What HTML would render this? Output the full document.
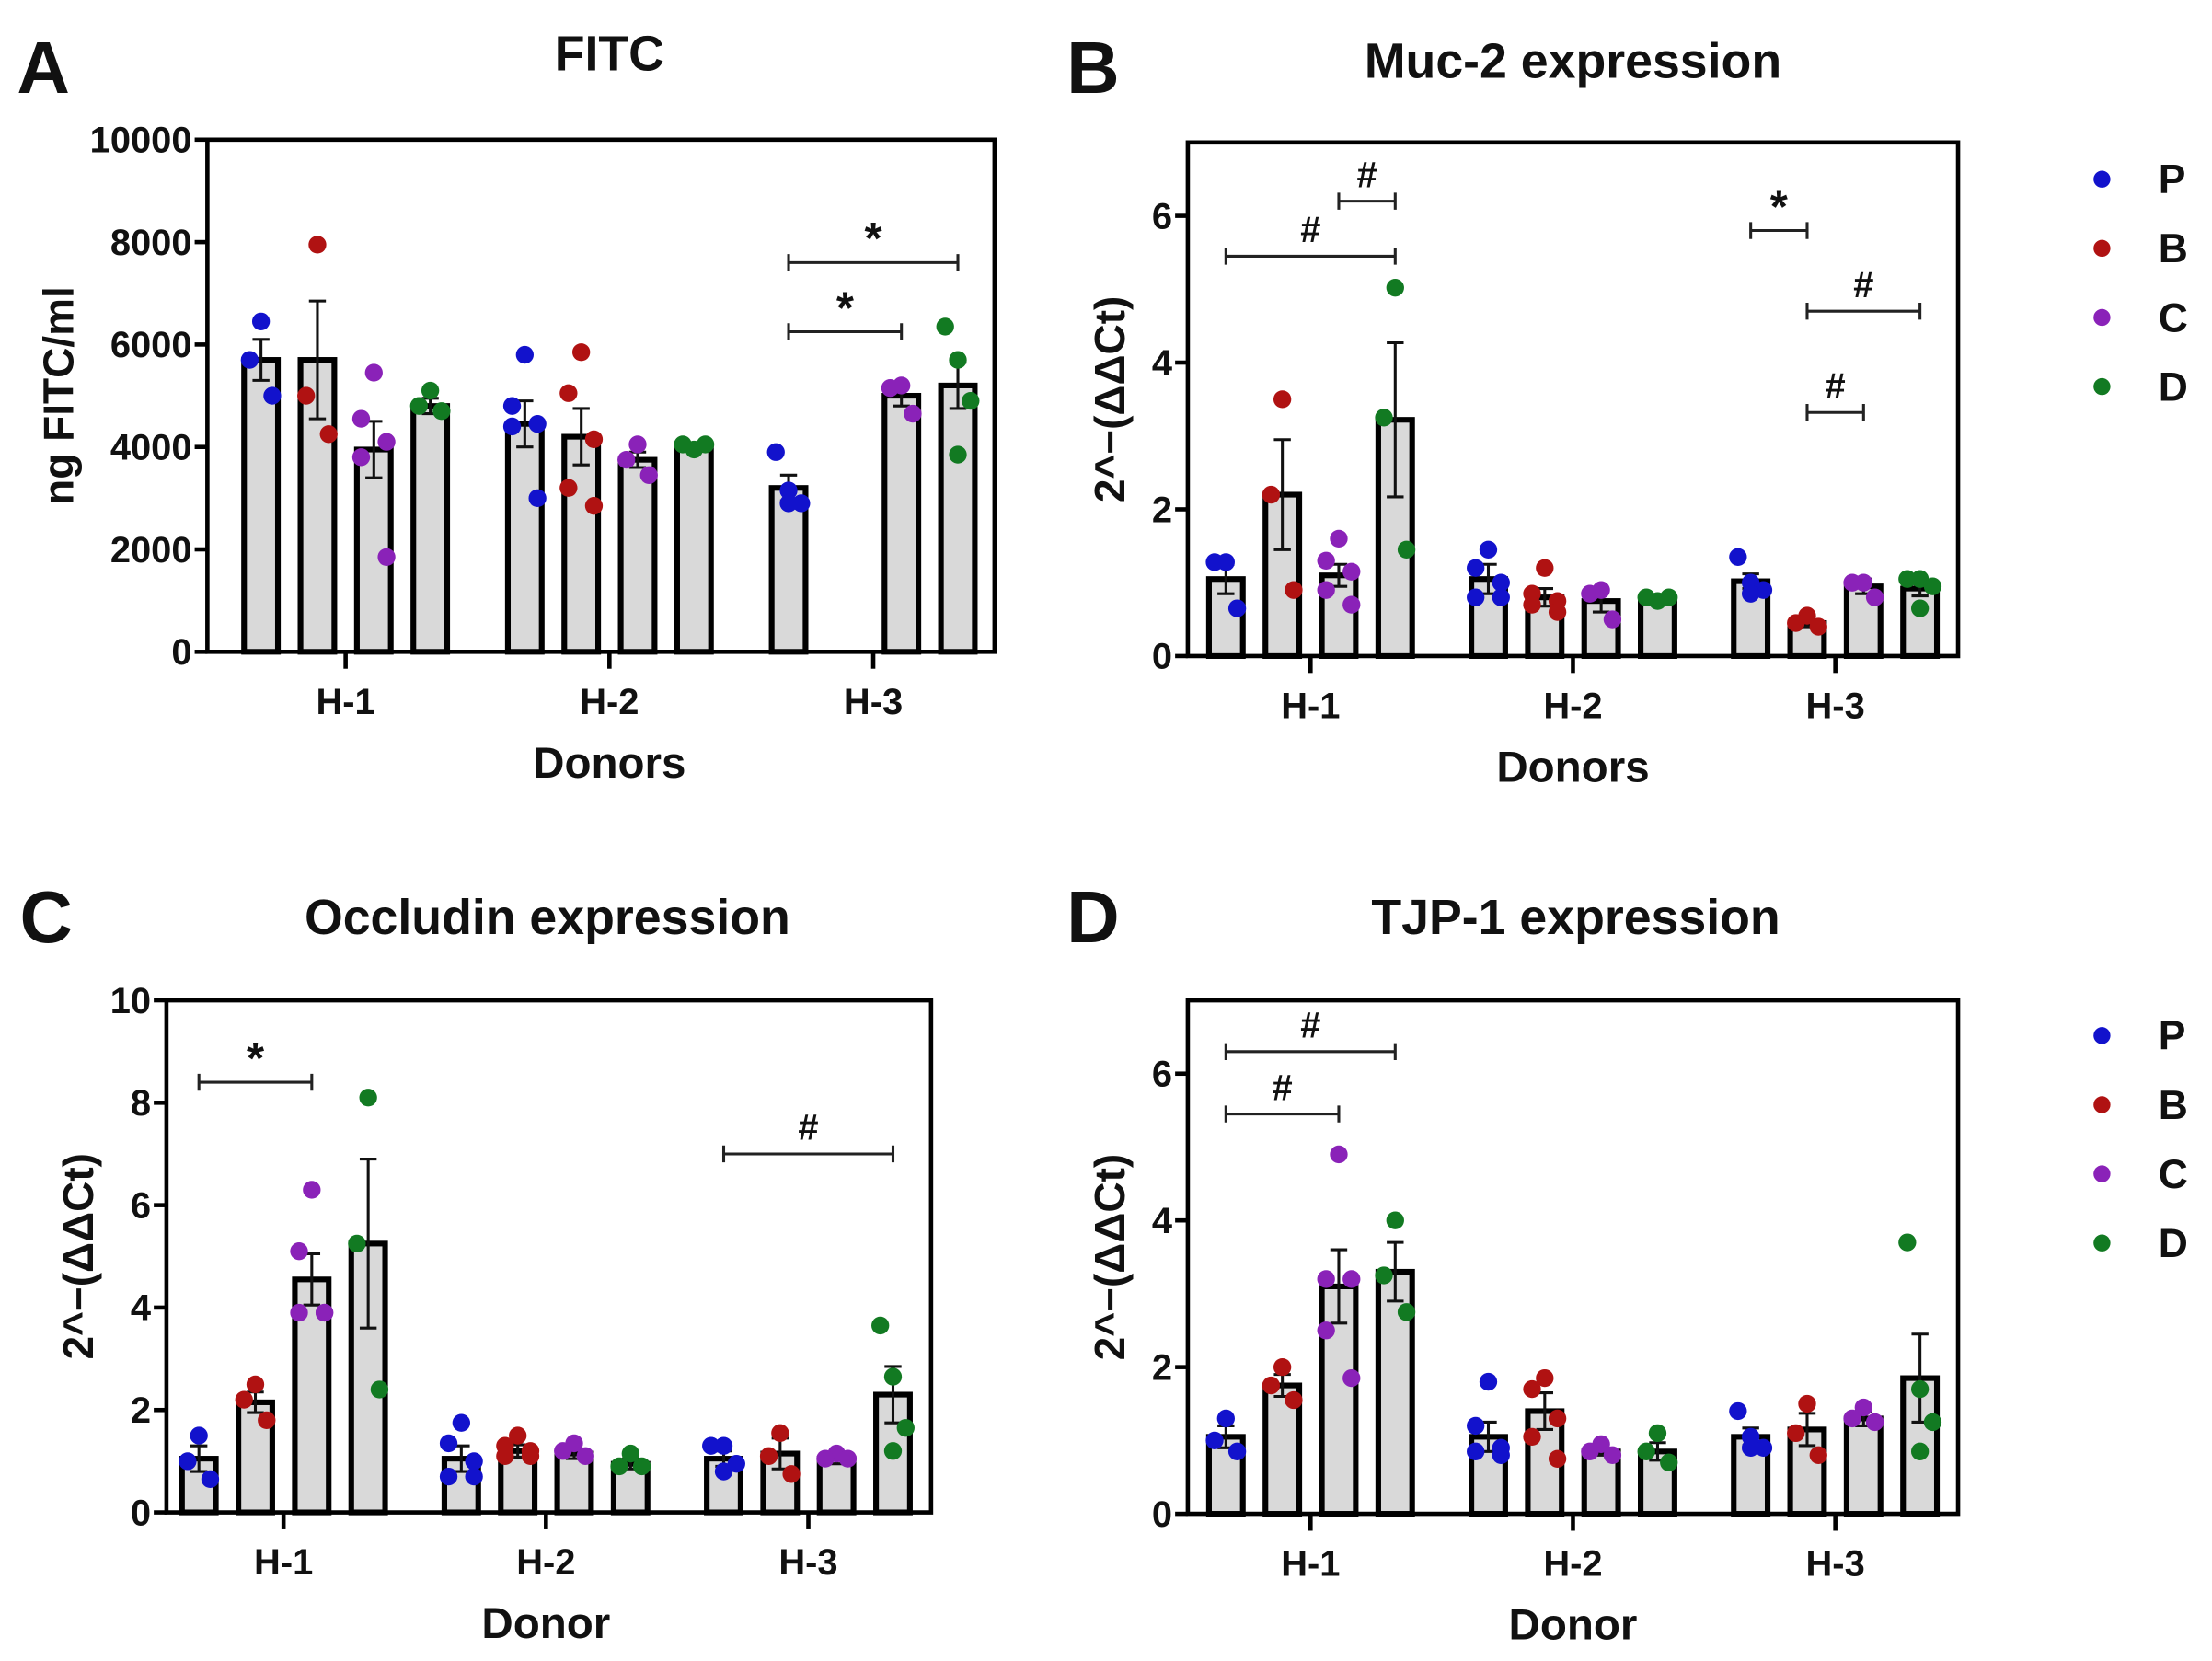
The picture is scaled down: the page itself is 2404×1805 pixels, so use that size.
<!DOCTYPE html>
<html><head><meta charset="utf-8"><style>
html,body{margin:0;padding:0;background:#fff}
svg{display:block}
text{font-family:"Liberation Sans Narrow","Liberation Sans",sans-serif;font-weight:bold;fill:#111}
</style></head><body>
<svg id="fig" xmlns="http://www.w3.org/2000/svg" width="2404" height="1805" viewBox="0 0 1568 1177.3"></svg>
<script>
// ---------- data ----------
const donors = ["H-1","H-2","H-3"];
const groups = ["P","B","C","D"];
const groupColors = ["#1212cc","#b01212","#8a22b8","#127a22"];

const aTicks = [0,2000,4000,6000,8000,10000];
const aMeans = [[5700,5700,3950,4800],[4450,4200,3750,4000],[3200,null,5000,5200]];
const aSem = [[400,1150,550,150],[450,550,150,50],[250,0,200,450]];
const aPoints = [
 [[6450,5700,5000],[7950,5000,4250],[5450,4550,4100,3800,1850],[5100,4800,4700]],
 [[5800,4800,4450,4400,3000],[5850,5050,4150,3200,2850],[4050,3750,3450],[3950,4050,4050]],
 [[3900,3150,2900,2900],[],[5200,5150,4650],[6350,5700,4900,3850]]];

const bTicks = [0,2,4,6];
const bMeans = [[1.05,2.2,1.1,3.22],[1.05,0.8,0.75,0.75],[1.02,0.45,0.95,0.92]];
const bSem = [[0.2,0.75,0.15,1.05],[0.2,0.12,0.15,0.03],[0.1,0.05,0.1,0.1]];
const bPoints = [
 [[1.28,1.28,0.65],[3.5,2.2,0.9],[1.6,1.3,1.15,0.9,0.7],[5.02,3.25,1.45]],
 [[1.45,1.2,1.0,0.8,0.8],[1.2,0.85,0.75,0.7,0.6],[0.9,0.85,0.5],[0.75,0.8,0.8]],
 [[1.35,1.0,0.9,0.85],[0.55,0.45,0.4],[1.0,1.0,0.8],[1.05,1.05,0.95,0.65]]];

const cTicks = [0,2,4,6,8,10];
const cMeans = [[1.05,2.15,4.55,5.25],[1.05,1.2,1.15,0.95],[1.05,1.15,1.05,2.3]];
const cSem = [[0.25,0.2,0.5,1.65],[0.25,0.12,0.1,0.1],[0.15,0.3,0.1,0.55]];
const cPoints = [
 [[1.5,1.0,0.65],[2.5,2.2,1.8],[6.3,5.1,3.9,3.9,3.9],[8.1,5.25,2.4]],
 [[1.75,1.35,1.0,0.7,0.7],[1.5,1.3,1.2,1.1,1.1],[1.35,1.2,1.1],[1.15,0.9,0.9]],
 [[1.3,1.3,0.95,0.8],[1.55,1.1,0.75],[1.15,1.05,1.05],[3.65,2.65,1.65,1.2]]];

const dTicks = [0,2,4,6];
const dMeans = [[1.05,1.75,3.1,3.3],[1.05,1.4,0.85,0.85],[1.05,1.15,1.3,1.85]];
const dSem = [[0.15,0.15,0.5,0.4],[0.2,0.25,0.05,0.12],[0.12,0.22,0.1,0.6]];
const dPoints = [
 [[1.3,1.0,0.85],[2.0,1.75,1.55],[4.9,3.2,3.2,2.5,1.85],[4.0,3.25,2.75]],
 [[1.8,1.2,0.9,0.85,0.8],[1.85,1.7,1.3,1.05,0.75],[0.95,0.85,0.8],[1.1,0.85,0.7]],
 [[1.4,1.05,0.9,0.9],[1.5,1.1,0.8],[1.45,1.3,1.25],[3.7,1.7,1.25,0.85]]];

// significance: [donorIdx, fromGroup, toGroup, value, symbol]
const aSig = [[2,0,3,7600,"*"],[2,0,2,6250,"*"]];
const bSig = [[0,0,3,5.45,"#"],[0,2,3,6.2,"#"],[2,0,1,5.8,"*"],[2,1,3,4.7,"#"],[2,1,2,3.32,"#"]];
const cSig = [[0,0,2,8.4,"*"],[2,0,3,7.0,"#"]];
const dSig = [[0,0,3,6.3,"#"],[0,0,2,5.45,"#"]];

// ---------- drawing ----------
const NS="http://www.w3.org/2000/svg";
const svg=document.getElementById('fig');
function mk(tag,attrs,parent){const e=document.createElementNS(NS,tag);for(const k in attrs)e.setAttribute(k,attrs[k]);(parent||svg).appendChild(e);return e;}
function txt(s,attrs,parent){const e=mk('text',attrs,parent);e.textContent=s;return e;}

function panel(p){
  const g=mk('g',{});
  
  
  const yMax=p.ticks[p.ticks.length-1]*p.topFactor;
  const y=v=>p.y0-(v/yMax)*(p.y0-p.yTop);
  const gc=i=>p.g0+i*p.gs;
  const bx=(i,j)=>gc(i)+(j-1.5)*p.step;
  const t1=txt(p.letter,{x:p.lx,y:p.ly,'font-size':52,'font-family':'Liberation Sans, sans-serif'},g);
  
  const t2=txt(p.title,{x:p.tx,y:p.ty,'font-size':35,'text-anchor':'middle'},g);
  
  p.means.forEach((row,i)=>row.forEach((m,j)=>{
    if(m===null)return;
    const r=mk('rect',{x:bx(i,j)-p.bw/2,y:y(m),width:p.bw,height:p.y0-y(m),fill:'#d9d9d9',stroke:'#000','stroke-width':4},g);
    
    
    const s=p.sem[i][j];
    if(s>0){
      const e=mk('path',{d:`M${bx(i,j)} ${y(m-s)}V${y(m+s)}M${bx(i,j)-6} ${y(m+s)}H${bx(i,j)+6}M${bx(i,j)-6} ${y(m-s)}H${bx(i,j)+6}`,stroke:'#111','stroke-width':2,fill:'none'},g);
      
      
    }
  }));
  const offs=[[0],[-6,6],[0,-8,8],[-9,0,9,0],[0,-9,9,-9,9]];
  p.points.forEach((row,i)=>row.forEach((pts,j)=>{
    const o=offs[Math.min(pts.length,5)-1]||[0];
    pts.forEach((v,k)=>{
      const c=mk('circle',{cx:bx(i,j)+o[k],cy:y(v),r:6.3,fill:groupColors[j]},g);
      
      
    });
  }));
  const ax=mk('path',{d:`M${p.x0} ${p.yTop}V${p.y0}H${p.x1}V${p.yTop}Z`,fill:'none',stroke:'#000','stroke-width':3},g);
  
  p.ticks.forEach(t=>{
    mk('line',{x1:p.x0-9,x2:p.x0,y1:y(t),y2:y(t),stroke:'#000','stroke-width':3},g);
    const l=txt(String(t),{x:p.x0-11,y:y(t)+9,'font-size':26,'text-anchor':'end'},g);
    
  });
  donors.forEach((d,i)=>{
    mk('line',{x1:gc(i),x2:gc(i),y1:p.y0,y2:p.y0+12,stroke:'#000','stroke-width':3},g);
    const l=txt(d,{x:gc(i),y:p.y0+44,'font-size':26,'text-anchor':'middle'},g);
    
  });
  const xt=txt(p.xlabel,{x:gc(1),y:p.y0+89,'font-size':31,'text-anchor':'middle'},g);
  
  const cy=(p.y0+p.yTop)/2;
  const yt=txt(p.ylabel,{x:p.yx,y:cy,'font-size':30,'text-anchor':'middle',transform:`rotate(-90 ${p.yx} ${cy})`},g);
  
  p.sig.forEach(s=>{
    const xa=bx(s[0],s[1]),xb=bx(s[0],s[2]),yy=y(s[3]);
    const b=mk('path',{d:`M${xa} ${yy-6}V${yy+6}M${xa} ${yy}H${xb}M${xb} ${yy-6}V${yy+6}`,stroke:'#222','stroke-width':2,fill:'none'},g);
    
    const st=txt(s[4],{x:(xa+xb)/2,y:yy-(s[4]==='*'?6:10),'font-size':s[4]==='*'?32:26,'text-anchor':'middle'},g);
    
  });
  if(p.legendY!==undefined){
    groups.forEach((n,j)=>{
      const c=mk('circle',{cx:1490,cy:p.legendY+j*49,r:6,fill:groupColors[j]},g);
      
      const l=txt(n,{x:1530,y:p.legendY+j*49+10,'font-size':29,'font-weight':'normal','font-family':'Liberation Sans, sans-serif'},g);
      
    });
  }
}

panel({name:'panel-a-fitc',letter:'A',lx:12,ly:66,title:'FITC',tx:432,ty:50,x0:147,x1:705,g0:245,gs:187,y0:462,yTop:99,topFactor:1,step:40,bw:24,
  ticks:aTicks,means:aMeans,sem:aSem,points:aPoints,sig:aSig,xlabel:'Donors',ylabel:'ng FITC/ml',yx:52});
panel({name:'panel-b-muc2',letter:'B',lx:756,ly:66,title:'Muc-2 expression',tx:1115,ty:55,x0:842,x1:1388,g0:929,gs:186,y0:465,yTop:101,topFactor:7/6,step:40,bw:24,
  ticks:bTicks,means:bMeans,sem:bSem,points:bPoints,sig:bSig,xlabel:'Donors',ylabel:'2^−(ΔΔCt)',yx:797,legendY:127});
panel({name:'panel-c-occludin',letter:'C',lx:14,ly:668,title:'Occludin expression',tx:388,ty:662,x0:118,x1:660,g0:201,gs:186,y0:1072,yTop:709,topFactor:1,step:40,bw:24,
  ticks:cTicks,means:cMeans,sem:cSem,points:cPoints,sig:cSig,xlabel:'Donor',ylabel:'2^−(ΔΔCt)',yx:66});
panel({name:'panel-d-tjp1',letter:'D',lx:756,ly:668,title:'TJP-1 expression',tx:1117,ty:662,x0:842,x1:1388,g0:929,gs:186,y0:1073,yTop:709,topFactor:7/6,step:40,bw:24,
  ticks:dTicks,means:dMeans,sem:dSem,points:dPoints,sig:dSig,xlabel:'Donor',ylabel:'2^−(ΔΔCt)',yx:797,legendY:734});
</script>
</body></html>
